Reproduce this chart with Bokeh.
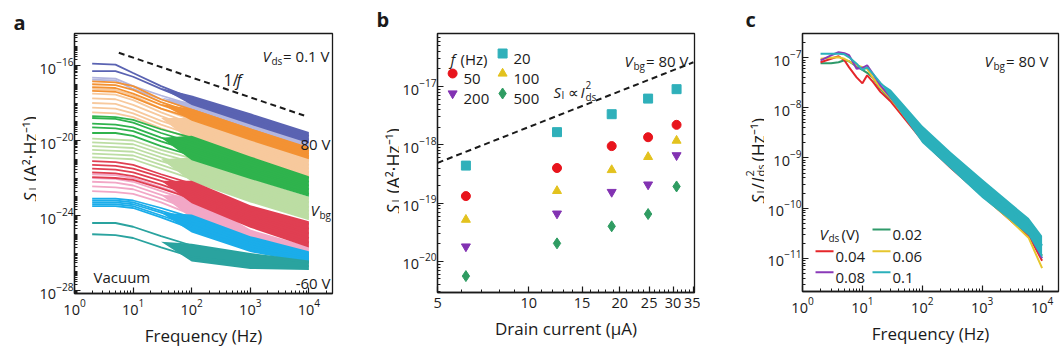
import math
from bokeh.plotting import figure
from bokeh.models import Range1d, FixedTicker, Label, PrintfTickFormatter
from bokeh.layouts import row
from bokeh.embed import file_html
from bokeh.resources import INLINE
from bokeh.core.properties import value

FONT = "Open Sans"
INK = "#1a1a1a"

# ---------------- panel a data (log10 S_I, A^2/Hz) ----------------
A_HZ = [2, 5, 10, 30, 100, 1000, 10000]
A_BAND_HZ = [30, 100, 1000, 10000]

A_BLUE = [[-15.9, -15.95, -16.4, -17.1, -17.75, -18.75, -19.75],
          [-16.3, -16.3, -16.6, -17.25, -17.9, -18.9, -19.95]]
A_BLUE_BAND = ([-17.2, -17.6, -18.55, -19.55], [-17.2, -18.1, -19.15, -20.15])

A_LAVENDER = [[-16.65, -16.7, -17.1, -17.6, -18.1, -19.1, -20.1],
              [-16.75, -16.8, -17.25, -17.8, -18.3, -19.3, -20.3]]
A_LAVENDER_BAND = ([-17.7, -18.0, -19.0, -20.0], [-17.7, -18.45, -19.45, -20.45])

A_ORANGE = [[-16.85, -16.9, -17.1, -17.8, -18.35, -19.4, -20.45],
            [-17.0, -17.05, -17.3, -17.95, -18.5, -19.55, -20.55],
            [-17.15, -17.2, -17.5, -18.1, -18.65, -19.7, -20.7],
            [-17.35, -17.4, -17.7, -18.3, -18.8, -19.85, -20.85]]
A_ORANGE_BAND = ([-18.05, -18.3, -19.35, -20.35], [-18.05, -18.95, -20.0, -21.0])

A_PEACH = [[-17.25, -17.3, -17.6, -18.3, -18.9, -19.95, -20.95],
           [-17.5, -17.55, -17.85, -18.5, -19.1, -20.1, -21.1],
           [-17.75, -17.8, -18.1, -18.7, -19.3, -20.3, -21.3],
           [-18.0, -18.05, -18.35, -18.95, -19.5, -20.5, -21.5],
           [-18.25, -18.3, -18.55, -19.15, -19.7, -20.7, -21.7],
           [-18.5, -18.55, -18.75, -19.35, -19.9, -20.9, -21.9]]
A_PEACH_BAND = ([-18.8, -18.8, -19.9, -20.9], [-18.8, -20.05, -21.0, -22.0])

A_GREEN = [[-18.7, -18.75, -18.9, -19.4, -19.85, -20.95, -22.0],
           [-18.8, -18.85, -19.05, -19.6, -20.1, -21.15, -22.2],
           [-19.1, -19.15, -19.3, -19.85, -20.35, -21.4, -22.4],
           [-19.3, -19.35, -19.5, -20.05, -20.55, -21.6, -22.6],
           [-19.6, -19.6, -19.75, -20.3, -20.8, -21.85, -22.85]]
A_GREEN_BAND = ([-19.85, -19.75, -20.85, -21.9], [-19.85, -21.05, -22.05, -23.0])

A_LIGHTGREEN = [[-19.9, -19.95, -20.0, -20.5, -20.95, -22.1, -23.1],
                [-20.1, -20.15, -20.2, -20.7, -21.15, -22.3, -23.3],
                [-20.3, -20.35, -20.4, -20.9, -21.4, -22.55, -23.55],
                [-20.5, -20.55, -20.6, -21.1, -21.6, -22.75, -23.75],
                [-20.7, -20.75, -20.8, -21.3, -21.85, -22.95, -23.95],
                [-20.9, -20.95, -21.0, -21.5, -22.05, -23.15, -24.1]]
A_LIGHTGREEN_BAND = ([-21.0, -20.9, -22.0, -23.0], [-21.0, -22.2, -23.3, -24.25])

A_RED = [[-21.1, -21.15, -21.3, -21.8, -22.3, -23.6, -24.45],
         [-21.3, -21.35, -21.5, -21.95, -22.5, -23.8, -24.7],
         [-21.5, -21.55, -21.7, -22.15, -22.7, -24.0, -24.95],
         [-21.7, -21.75, -21.9, -22.35, -22.9, -24.2, -25.2],
         [-21.95, -22.0, -22.1, -22.55, -23.1, -24.4, -25.45]]
A_RED_BAND = ([-22.15, -22.15, -23.45, -24.3], [-22.15, -23.35, -24.65, -25.7])

A_PINK = [[-21.8, -21.85, -22.0, -22.5, -23.0, -24.9, -25.8],
          [-22.0, -22.05, -22.2, -22.7, -23.25, -25.1, -26.0],
          [-22.2, -22.25, -22.4, -22.9, -23.45, -25.25, -26.2],
          [-22.45, -22.5, -22.6, -23.1, -23.7, -25.4, -26.35],
          [-22.7, -22.75, -22.85, -23.3, -23.95, -25.55, -26.5]]
A_PINK_BAND = ([-22.9, -22.95, -24.75, -25.65], [-22.9, -24.15, -25.75, -26.6])

A_CYAN = [[-23.1, -23.1, -23.2, -23.6, -24.1, -25.2, -26.0],
          [-23.2, -23.2, -23.3, -23.75, -24.25, -25.35, -26.1],
          [-23.3, -23.3, -23.4, -23.85, -24.4, -25.5, -26.2],
          [-23.4, -23.4, -23.5, -24.0, -24.55, -25.6, -26.3],
          [-23.5, -23.5, -23.6, -24.1, -24.7, -25.75, -26.4]]
A_CYAN_BAND = ([-23.85, -23.95, -25.1, -25.9], [-23.85, -24.9, -25.95, -26.55])

A_TEAL = [[-24.4, -24.4, -24.6, -25.1, -25.6, -26.1, -26.5],
          [-25.0, -25.05, -25.2, -25.7, -26.2, -26.6, -26.7]]
A_TEAL_BAND = ([-25.4, -25.5, -26.0, -26.4], [-25.4, -26.45, -26.85, -26.9])

A_GUIDE_HZ = [5.7, 8300]
A_GUIDE_LOG = [-15.32, -18.67]

# ---------------- panel b data ----------------
B_CURRENT_UA = [6.2, 12.4, 18.8, 24.8, 30.8]
B_20HZ = [4.4e-19, 1.65e-18, 3.35e-18, 6.2e-18, 9.0e-18]
B_50HZ = [1.32e-19, 4.0e-19, 9.5e-19, 1.35e-18, 2.2e-18]
B_100HZ = [5.2e-20, 1.62e-19, 3.7e-19, 6.2e-19, 1.18e-18]
B_200HZ = [1.8e-20, 6.6e-20, 1.55e-19, 2.08e-19, 6.6e-19]
B_500HZ = [5.6e-21, 2.04e-20, 4.0e-20, 6.5e-20, 1.93e-19]
B_GUIDE_UA = [5, 35]
B_GUIDE = [4.9e-19, 2.6e-17]

# ---------------- panel c data (log10 S_I/I_ds^2, 1/Hz) ----------------
C_HZ = [2, 3, 4, 5, 6, 8, 10, 12, 15, 20, 30, 100, 300, 1000, 3000, 6000, 10000]
C_002 = [-7.11, -7.11, -7.09, -7.05, -7.07, -7.17, -7.24, -7.3, -7.4, -7.62, -7.85, -8.6, -9.15, -9.7, -10.2, -10.5, -10.95]
C_004 = [-7.09, -7.02, -6.97, -7.05, -7.19, -7.39, -7.51, -7.35, -7.48, -7.68, -7.88, -8.65, -9.2, -9.75, -10.25, -10.55, -11.05]
C_006 = [-7.02, -7.0, -6.99, -7.02, -7.07, -7.15, -7.19, -7.22, -7.4, -7.6, -7.82, -8.62, -9.18, -9.75, -10.25, -10.6, -11.2]
C_008 = [-7.05, -6.95, -6.89, -6.91, -6.95, -7.22, -7.2, -7.15, -7.32, -7.55, -7.8, -8.6, -9.15, -9.7, -10.2, -10.5, -11.0]
C_010 = [-6.92, -6.92, -6.92, -6.93, -6.99, -7.12, -7.24, -7.19, -7.32, -7.5, -7.72, -8.5, -9.05, -9.6, -10.05, -10.35, -10.75]
C_BAND_HZ = [20, 30, 100, 300, 1000, 3000, 6000, 10000]
C_010_BAND = ([-7.5, -7.64, -8.35, -8.88, -9.42, -9.9, -10.2, -10.55],
              [-7.5, -7.82, -8.7, -9.22, -9.8, -10.25, -10.55, -11.0])
C_LABELS = ["0.02", "0.04", "0.06", "0.08", "0.1"]


def pw(vals):
    return [10 ** v for v in vals]


class Frame:
    def __init__(self, fig_x0, left, top, right, bottom, lx, ly):
        self.fig_x0 = fig_x0
        self.left, self.top, self.right, self.bottom = left, top, right, bottom
        self.lx0, self.lx1 = lx
        self.ly0, self.ly1 = ly

    def dx(self, X):
        return 10 ** (self.lx0 + (X - self.left) / (self.right - self.left) * (self.lx1 - self.lx0))

    def dy(self, Y):
        return 10 ** (self.ly1 - (Y - self.top) / (self.bottom - self.top) * (self.ly1 - self.ly0))


def make_fig(fr, fig_w, xticks, xminor, yticks, yminor, xlabel, xstart=None):
    p = figure(width=fig_w, height=354, x_axis_type="log", y_axis_type="log",
               x_range=Range1d(xstart if xstart else 10 ** fr.lx0, 10 ** fr.lx1),
               y_range=Range1d(10 ** fr.ly0, 10 ** fr.ly1),
               output_backend="svg", toolbar_location=None, frame_align=False,
               min_border_left=fr.left - fr.fig_x0,
               min_border_right=fig_w - (fr.right - fr.fig_x0),
               min_border_top=fr.top, min_border_bottom=354 - fr.bottom)
    p.grid.visible = False
    p.outline_line_color = INK
    p.outline_line_width = 1.3
    p.outline_line_alpha = 1
    p.background_fill_color = "white"
    p.border_fill_color = "white"
    p.xaxis.ticker = FixedTicker(ticks=xticks, minor_ticks=xminor)
    p.yaxis.ticker = FixedTicker(ticks=yticks, minor_ticks=yminor)
    for ax in (p.xaxis[0], p.yaxis[0]):
        ax.axis_line_color = INK
        ax.axis_line_width = 1.3
        ax.major_tick_in = 6
        ax.major_tick_out = 0
        ax.minor_tick_in = 3
        ax.minor_tick_out = 0
        ax.major_tick_line_color = INK
        ax.minor_tick_line_color = INK
        ax.major_tick_line_width = 1.2
        ax.major_label_text_font = FONT
        ax.major_label_text_font_size = "14.5px"
        ax.major_label_text_color = INK
    p.xaxis.major_label_standoff = 5
    p.yaxis.major_label_standoff = 1
    p.xaxis.axis_label = xlabel
    p.xaxis.axis_label_text_font = FONT
    p.xaxis.axis_label_text_font_size = "17px"
    p.xaxis.axis_label_text_font_style = "normal"
    p.xaxis.axis_label_text_color = INK
    p.xaxis.axis_label_standoff = 6
    return p


def make_strip(w):
    s = figure(width=w, height=354, x_range=Range1d(0, w), y_range=Range1d(0, 354),
               output_backend="svg", toolbar_location=None, frame_align=False,
               x_axis_location=None, y_axis_location=None,
               min_border_left=0, min_border_right=0, min_border_top=0, min_border_bottom=0)
    s.grid.visible = False
    s.outline_line_color = None
    s.background_fill_color = "white"
    s.border_fill_color = "white"
    return s


def stxt(s, x0, X, Y, t, size=17.5, style="normal", angle=math.pi / 2):
    s.text(x=[X - x0], y=[354 - Y], text=[t], angle=angle,
           text_font=value(FONT), text_font_size=value(f"{size}px"),
           text_font_style=value(style), text_color=INK,
           text_align=value("left"), text_baseline=value("alphabetic"))


def txt(p, fr, X, Y, s, size=15, style="normal", align="left"):
    # screen units, measured from the frame's bottom-left corner (y upward)
    p.add_layout(Label(x=X - fr.left, y=fr.bottom - Y, x_units="screen", y_units="screen",
                       text=s, text_font=FONT,
                       text_font_size=f"{size}px", text_font_style=style,
                       text_color=INK, text_align=align,
                       text_baseline="alphabetic"))


def minors(lo, hi):
    out = []
    for k in range(lo, hi + 1):
        for m in range(2, 10):
            out.append(m * 10.0 ** k)
    return out


# ======================= panel a =======================
SA_X0, SA_W = 0, 36
sa = make_strip(SA_W)
stxt(sa, SA_X0, 13, 22, "a", size=20, style="bold", angle=0)
stxt(sa, SA_X0, 29, 201, "S", style="italic")
stxt(sa, SA_X0, 31.5, 190, "I", size=11)
stxt(sa, SA_X0, 29, 181, "(A²·Hz⁻¹)")

fa = Frame(36, 74, 33, 332, 293, (0.0, 4.403), (-28.16, -14.293))
pa = make_fig(fa, 304, [1, 10, 100, 1000, 10000], minors(0, 4),
              [1e-28, 1e-24, 1e-20, 1e-16],
              [10.0 ** k for k in range(-28, -14) if k % 4 != 0] + minors(-29, -15),
              "Frequency (Hz)", xstart=0.999)

A_SETS = [
    (A_LAVENDER, A_LAVENDER_BAND, "#b3b6df"),
    (A_BLUE, A_BLUE_BAND, "#5a63b2"),
    (A_PEACH, A_PEACH_BAND, "#f7c99d"),
    (A_ORANGE, A_ORANGE_BAND, "#f39234"),
    (A_LIGHTGREEN, A_LIGHTGREEN_BAND, "#bcdda3"),
    (A_GREEN, A_GREEN_BAND, "#2fb34d"),
    (A_PINK, A_PINK_BAND, "#f2a7c6"),
    (A_RED, A_RED_BAND, "#e03f52"),
    (A_CYAN, A_CYAN_BAND, "#1badea"),
    (A_TEAL, A_TEAL_BAND, "#2aa39f"),
]
for curves, band, col in A_SETS:
    pa.varea(x=A_BAND_HZ, y1=pw(band[0]), y2=pw(band[1]), color=col)
    for c in curves:
        pa.line(A_HZ, pw(c), line_color=col, line_width=1.8)

pa.line(A_GUIDE_HZ, pw(A_GUIDE_LOG), line_color=INK, line_width=2, line_dash="6 4")

txt(pa, fa, 262, 55, "V", style="italic")
txt(pa, fa, 271, 60, "ds", size=10)
txt(pa, fa, 329, 55, "= 0.1 V", align="right")
txt(pa, fa, 223, 79, "1/", size=16)
txt(pa, fa, 236, 79, "f", size=16, style="italic")
txt(pa, fa, 330, 143, "80 V", align="right")
txt(pa, fa, 310, 209, "V", style="italic")
txt(pa, fa, 319, 214, "bg", size=10)
txt(pa, fa, 330, 282, "-60 V", align="right")
txt(pa, fa, 93, 276, "Vacuum")

# ======================= panel b =======================
SB_X0, SB_W = 340, 59
sb = make_strip(SB_W)
stxt(sb, SB_X0, 376, 19, "b", size=20, style="bold", angle=0)
stxt(sb, SB_X0, 392, 213, "S", style="italic")
stxt(sb, SB_X0, 394.5, 202, "I", size=11)
stxt(sb, SB_X0, 392, 193, "(A²·Hz⁻¹)")

fb = Frame(399, 437, 33, 694, 292, (math.log10(5), math.log10(35.3)), (-20.533, -16.091))
pb = make_fig(fb, 301, [5, 10, 15, 20, 25, 30, 35],
              [v for v in range(6, 35) if v % 5 != 0],
              [1e-20, 1e-19, 1e-18, 1e-17], minors(-21, -17),
              "Drain current (μA)", xstart=4.995)
pb.xaxis.formatter = PrintfTickFormatter(format="%d")

pb.line(B_GUIDE_UA, B_GUIDE, line_color=INK, line_width=2, line_dash="6 4")
B_SETS = [
    (B_20HZ, "square", "#2fb0ba", "20", 502, 53),
    (B_50HZ, "circle", "#e8141c", "50", 452, 73),
    (B_100HZ, "triangle", "#e3c21e", "100", 502, 73),
    (B_200HZ, "inverted_triangle", "#8232b2", "200", 452, 93),
    (B_500HZ, "diamond", "#2f9c62", "500", 502, 93),
]
for vals, mk, col, lab, LX, LY in B_SETS:
    sz = 11 if mk == "diamond" else 9
    pb.scatter(B_CURRENT_UA, vals, marker=mk, size=sz, color=col)
    pb.scatter([fb.dx(LX)], [fb.dy(LY)], marker=mk, size=sz, color=col)
    txt(pb, fb, LX + 11, LY + 5.5, lab)
txt(pb, fb, 450, 58.5, "f", style="italic")
txt(pb, fb, 460, 58.5, "(Hz)")

txt(pb, fb, 553, 91, "S", style="italic")
txt(pb, fb, 561, 94, "I", size=10)
txt(pb, fb, 567, 91, "∝")
txt(pb, fb, 580, 91, "I", style="italic")
txt(pb, fb, 585, 84, "2", size=10)
txt(pb, fb, 585, 96, "ds", size=10)

txt(pb, fb, 624, 60, "V", style="italic")
txt(pb, fb, 633, 65, "bg", size=10)
txt(pb, fb, 688, 60, "= 80 V", align="right")

# ======================= panel c =======================
SC_X0, SC_W = 700, 64
sc = make_strip(SC_W)
stxt(sc, SC_X0, 745, 19, "c", size=20, style="bold", angle=0)
stxt(sc, SC_X0, 757, 203, "S", style="italic")
stxt(sc, SC_X0, 759.5, 193, "I", size=11)
stxt(sc, SC_X0, 757, 189, "/")
stxt(sc, SC_X0, 757, 182, "I", style="italic")
stxt(sc, SC_X0, 749, 176, "2", size=11)
stxt(sc, SC_X0, 759.5, 176, "ds", size=11)
stxt(sc, SC_X0, 757, 161, "(Hz⁻¹)")

fc = Frame(764, 802, 33, 1058, 291, (0.0, 4.274), (-11.665, -6.515))
pc = make_fig(fc, 296, [1, 10, 100, 1000, 10000], minors(0, 4),
              [1e-11, 1e-10, 1e-9, 1e-8, 1e-7], minors(-12, -7),
              "Frequency (Hz)", xstart=0.999)

C_SETS = [
    (C_002, "#2f9a6a", 872, 229),
    (C_004, "#e5262a", 815, 250.7),
    (C_006, "#e6c62e", 872, 250.7),
    (C_008, "#8a3ab8", 815, 271.7),
    (C_010, "#2bb0bb", 872, 271.7),
]
for (vals, col, LX, LY), lab in zip(C_SETS, C_LABELS):
    if lab == "0.1":
        pc.varea(x=C_BAND_HZ, y1=pw(C_010_BAND[0]), y2=pw(C_010_BAND[1]), color=col)
    pc.line(C_HZ, pw(vals), line_color=col, line_width=2)
    pc.line([fc.dx(LX), fc.dx(LX + 18)], [fc.dy(LY), fc.dy(LY)], line_color=col, line_width=2)
    txt(pc, fc, LX + 20, LY + 5.5, lab)

txt(pc, fc, 819, 233, "V", style="italic")
txt(pc, fc, 828, 237, "ds", size=10)
txt(pc, fc, 841, 233, "(V)")

txt(pc, fc, 984, 60, "V", style="italic")
txt(pc, fc, 993, 65, "bg", size=10)
txt(pc, fc, 1048, 60, "= 80 V", align="right")

layout = row(sa, pa, sb, pb, sc, pc)
open("out.html", "w").write(file_html(layout, INLINE))
